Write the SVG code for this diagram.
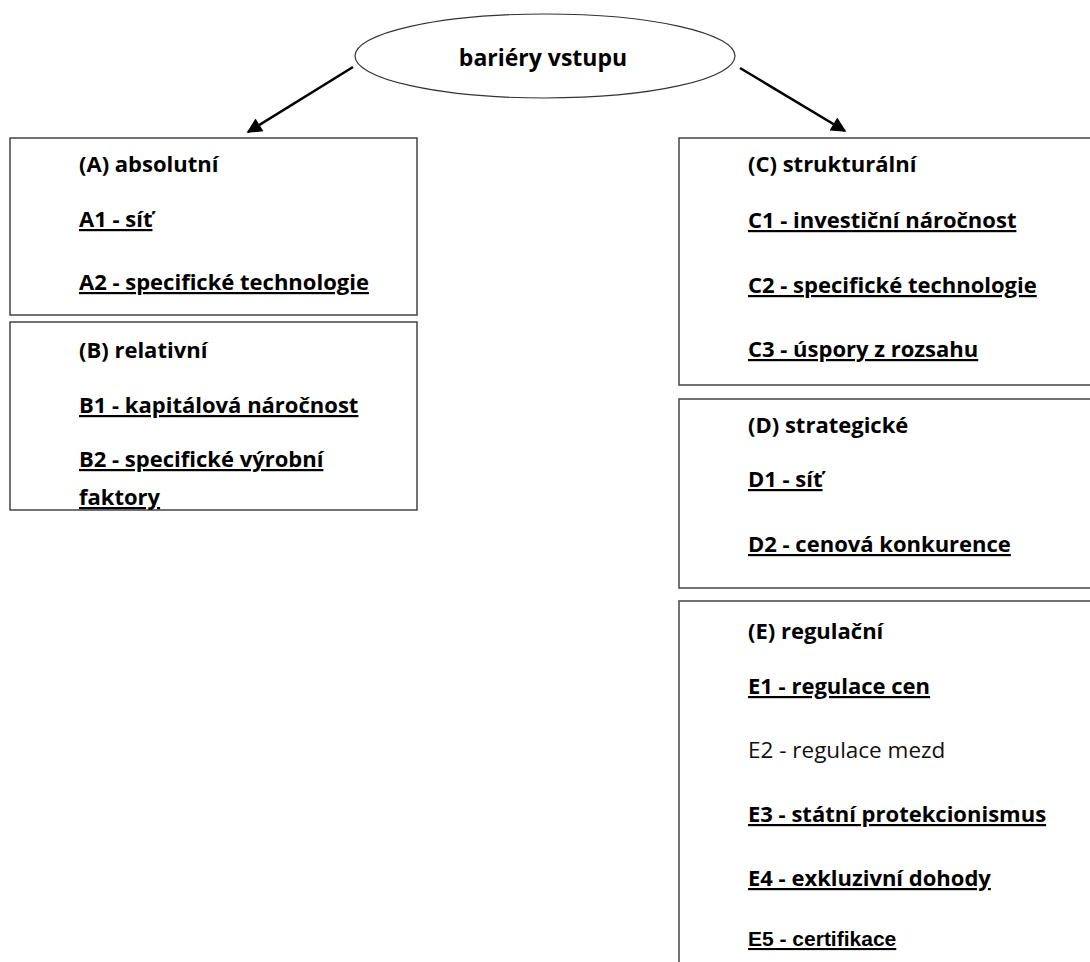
<svg xmlns="http://www.w3.org/2000/svg" width="1090" height="962" viewBox="0 0 1090 962">
<style>
.box{fill:#fff;stroke:#444;stroke-width:1.5}
.t{font-family:"Open Sans",Lato,sans-serif;font-size:22px;font-weight:bold;fill:#000}
.title{font-size:23px}
.u{text-decoration:underline}
.n{font-weight:normal;font-size:22.5px;fill:#111}
.ar{font-family:"Liberation Sans",Arial,sans-serif;font-size:21px;font-weight:bold;text-decoration:underline}
.c{stroke:#000;stroke-width:2.5;fill:none}
</style>
<defs>
<marker id="ah" viewBox="0 0 10 10" refX="9" refY="5" markerWidth="6.5" markerHeight="6" markerUnits="strokeWidth" orient="auto">
<path d="M0,0 L10,5 L0,10 z" fill="#000"/>
</marker>
</defs>
<rect width="1090" height="962" fill="#fff"/>
<g id="root">
<ellipse cx="545" cy="56" rx="190" ry="42" fill="#fff" stroke="#333" stroke-width="1.2"/>
<text x="543" y="66" class="t title" text-anchor="middle">bariéry vstupu</text>
</g>
<g id="connectors">
<line x1="353" y1="67" x2="248" y2="132" class="c" marker-end="url(#ah)"/>
<line x1="740" y1="68" x2="845" y2="131" class="c" marker-end="url(#ah)"/>
</g>
<g id="nodeA">
<rect x="10" y="138" width="407" height="177" class="box"/>
<text x="79" y="172" class="t">(A) absolutní</text>
<text x="79" y="227" class="t u">A1 - síť</text>
<text x="79" y="290" class="t u">A2 - specifické technologie</text>
</g>
<g id="nodeB">
<rect x="10" y="322" width="407" height="188" class="box"/>
<text x="79" y="358" class="t">(B) relativní</text>
<text x="79" y="413" class="t u">B1 - kapitálová náročnost</text>
<text x="79" y="467" class="t u">B2 - specifické výrobní</text>
<text x="79" y="505" class="t u">faktory</text>
</g>
<g id="nodeC">
<rect x="679" y="138" width="420" height="247" class="box"/>
<text x="748" y="172" class="t">(C) strukturální</text>
<text x="748" y="228" class="t u">C1 - investiční náročnost</text>
<text x="748" y="293" class="t u">C2 - specifické technologie</text>
<text x="748" y="357" class="t u">C3 - úspory z rozsahu</text>
</g>
<g id="nodeD">
<rect x="679" y="399" width="420" height="189" class="box"/>
<text x="748" y="433" class="t">(D) strategické</text>
<text x="748" y="487" class="t u">D1 - síť</text>
<text x="748" y="552" class="t u">D2 - cenová konkurence</text>
</g>
<g id="nodeE">
<rect x="679" y="601" width="420" height="380" class="box"/>
<text x="748" y="639" class="t">(E) regulační</text>
<text x="748" y="694" class="t u">E1 - regulace cen</text>
<text x="748" y="758" class="t n">E2 - regulace mezd</text>
<text x="748" y="822" class="t u">E3 - státní protekcionismus</text>
<text x="748" y="886" class="t u">E4 - exkluzivní dohody</text>
<text x="748" y="946" class="ar">E5 - certifikace</text>
</g>
</svg>
